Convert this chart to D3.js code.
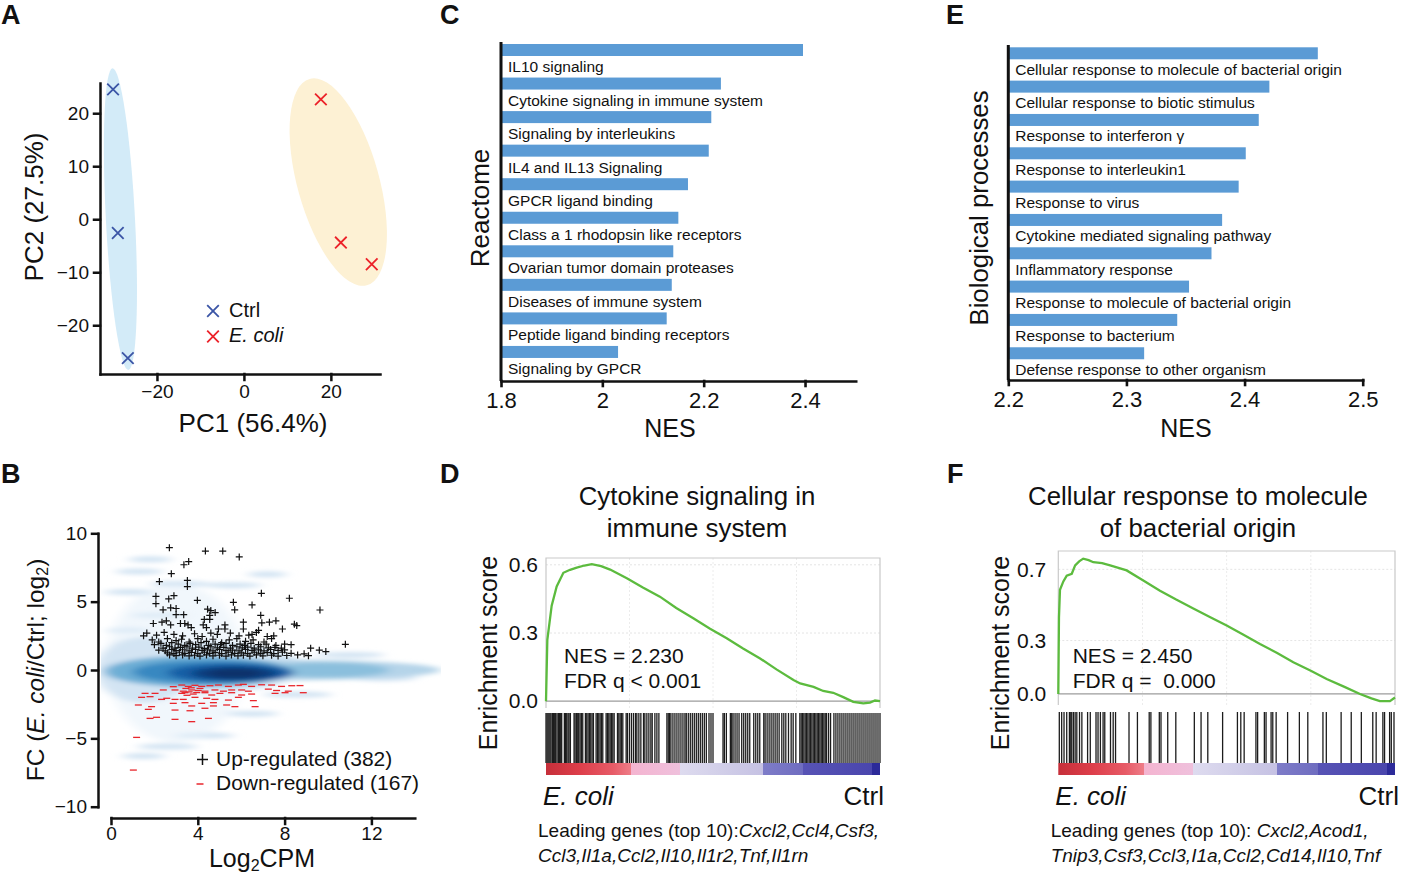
<!DOCTYPE html>
<html>
<head>
<meta charset="utf-8">
<title>E. coli transcriptome figure</title>
<script src="https://cdn.jsdelivr.net/npm/d3@7/dist/d3.min.js"></script>
<style>
  body { margin: 0; background: #fff; }
  text { font-family: "Liberation Sans", Arial, sans-serif; fill: #111; }
</style>
</head>
<body>
<script>
// ---------- A: PCA ----------
var pcaCtrl = [[-30.1, 24.5], [-29.0, -2.6], [-26.7, -26.2]];
var pcaEcoli = [[17.7, 22.6], [22.3, -4.4], [29.4, -8.5]];
// ellipse: centre PC1, centre PC2, half width (PC1), half height (PC2), tilt (deg)
var pcaEllipses = [[-28.4, 0.0, 3.35, 28.5, -3], [21.7, 7.0, 9.4, 20.2, -15.5]];
var pcaXTicks = [-20, 0, 20];
var pcaYTicks = [-20, -10, 0, 10, 20];
var pcaGroups = ["Ctrl", "E. coli"];

// ---------- B: MA plot ----------
var maXTicks = [0, 4, 8, 12];
var maYTicks = [-10, -5, 0, 5, 10];
// smoothed density of all genes: log2CPM, FC, spread log2CPM, spread FC, level 0..1
var maDensity = [
  [3.0, 0.5, 3.2, 5.8, 0.08], [1.5, 0.0, 2.2, 2.4, 0.18], [4.5, 0.2, 4.3, 1.9, 0.16],
  [8.0, 0.0, 7.2, 0.75, 0.3], [10.0, 0.0, 2.8, 0.55, 0.42], [4.0, -0.1, 4.3, 1.15, 0.5],
  [4.6, -0.15, 3.6, 0.85, 0.66], [5.5, -0.2, 2.9, 0.7, 0.82], [5.7, -0.25, 2.0, 0.5, 0.95],
  [5.7, -0.25, 1.2, 0.35, 1.0]
];
// faint streaks of the smoothed scatter: log2CPM, FC, half length
var maStreaks = [
  [1.8, 8.1, 1.0], [1.3, 7.2, 1.1], [0.9, 5.7, 1.2], [3.2, 6.3, 1.4], [5.6, 6.2, 1.3],
  [7.2, 7.0, 0.9], [2.6, -5.6, 1.4], [1.5, -6.3, 1.0], [4.3, -4.8, 1.4], [8.6, -1.8, 1.6],
  [12.6, -0.6, 1.5], [11.0, 1.1, 1.6], [2.2, 4.0, 1.3], [0.8, 2.9, 1.0], [6.5, -3.2, 1.2]
];
var maUp = [
  [2.69, 8.95], [4.35, 8.7], [5.15, 8.7], [5.91, 8.27], [3.36, 7.7], [3.58, 7.93], [2.78, 7.05],
  [2.23, 6.47], [3.52, 6.55], [3.52, 6.1], [6.93, 5.61], [8.22, 5.25], [9.63, 4.39], [10.8, 1.88],
  [2.07, 5.39], [2.07, 4.85], [2.66, 5.2], [2.9, 5.44], [3.98, 5.1], [5.64, 4.95], [6.5, 4.76],
  [2.4, 4.4], [2.75, 4.55], [3.0, 4.5], [3.0, 4.05], [3.35, 4.05], [4.45, 4.45], [4.6, 4.35],
  [4.55, 4.0], [4.55, 3.7], [4.8, 4.2], [5.7, 4.4], [6.9, 4.0], [7.3, 3.5], [6.95, 3.45],
  [8.45, 3.35], [7.6, 3.6], [7.9, 3.0], [1.95, 3.4], [2.35, 3.5], [2.55, 3.6], [2.75, 3.3],
  [3.2, 3.4], [3.4, 3.4], [3.55, 3.3], [3.7, 3.1], [4.3, 3.7], [4.25, 3.3], [4.4, 3.1],
  [4.6, 2.7], [4.95, 3.0], [5.25, 3.3], [5.25, 3.0], [6.1, 3.5], [6.1, 3.0], [6.5, 2.6],
  [6.8, 2.9], [7.5, 2.5], [8.0, 1.9], [8.56, 3.25],
  [1.5, 2.5], [1.65, 2.7], [2.1, 2.55], [2.45, 2.75], [2.9, 2.6], [3.3, 2.5], [3.85, 2.65],
  [4.2, 2.45], [4.9, 2.6], [5.5, 2.7], [5.9, 2.5], [6.35, 2.55], [6.7, 2.75], [7.2, 2.45],
  [1.9, 2.2], [2.2, 2.05], [2.6, 2.3], [3.0, 2.15], [3.25, 2.25], [3.6, 2.05], [4.0, 2.3],
  [4.4, 2.1], [4.7, 2.25], [5.1, 2.0], [5.45, 2.2], [5.8, 2.3], [6.2, 2.1], [6.55, 2.2],
  [7.05, 2.05], [7.4, 2.3],
  [2.0, 1.85], [2.3, 1.95], [2.55, 1.8], [2.8, 2.0], [3.1, 1.9], [3.4, 1.8], [3.65, 1.95],
  [3.9, 1.85], [4.15, 2.0], [4.5, 1.8], [4.8, 1.9], [5.05, 1.85], [5.3, 1.95], [5.6, 1.8],
  [5.95, 1.9], [6.15, 1.8], [6.45, 1.95], [6.8, 1.85], [7.15, 1.9], [7.6, 1.8], [8.3, 1.85],
  [2.4, 1.6], [2.7, 1.7], [2.95, 1.6], [3.2, 1.65], [3.5, 1.7], [3.75, 1.6], [4.05, 1.68],
  [4.3, 1.58], [4.6, 1.7], [4.9, 1.62], [5.2, 1.66], [5.5, 1.6], [5.8, 1.7], [6.05, 1.62],
  [6.3, 1.68], [6.6, 1.6], [6.9, 1.7], [7.25, 1.62], [7.55, 1.66], [7.85, 1.6], [9.2, 1.6],
  [2.2, 1.45], [2.5, 1.4], [2.8, 1.5], [3.0, 1.42], [3.3, 1.48], [3.6, 1.4], [3.9, 1.5],
  [4.2, 1.43], [4.45, 1.47], [4.7, 1.4], [5.0, 1.5], [5.3, 1.42], [5.6, 1.46], [5.9, 1.4],
  [6.2, 1.5], [6.5, 1.43], [6.8, 1.47], [7.05, 1.4], [7.35, 1.5], [7.7, 1.43], [8.0, 1.47],
  [9.6, 1.45],
  [2.6, 1.25], [2.9, 1.2], [3.15, 1.3], [3.4, 1.22], [3.7, 1.28], [4.0, 1.2], [4.3, 1.3],
  [4.55, 1.22], [4.8, 1.27], [5.1, 1.2], [5.4, 1.3], [5.7, 1.22], [6.0, 1.26], [6.3, 1.2],
  [6.6, 1.3], [6.9, 1.22], [7.2, 1.27], [7.5, 1.2], [7.9, 1.3], [8.3, 1.22], [8.9, 1.18],
  [9.9, 1.35],
  [2.7, 1.1], [3.0, 1.05], [3.3, 1.1], [3.6, 1.03], [3.85, 1.08], [4.1, 1.02], [4.4, 1.1],
  [4.7, 1.04], [5.0, 1.08], [5.3, 1.02], [5.55, 1.1], [5.85, 1.04], [6.1, 1.08], [6.4, 1.02],
  [6.7, 1.1], [7.0, 1.04], [7.4, 1.08], [7.7, 1.02], [8.1, 1.06], [8.6, 1.1], [9.1, 1.05]
];
var maDown = [
  [2.87, -1.22], [3.26, -1.1], [3.56, -1.2], [3.87, -1.12], [4.18, -1.2], [4.56, -1.15],
  [4.95, -1.1], [5.41, -1.2], [5.87, -1.1], [6.1, -1.05], [6.48, -1.2], [6.94, -1.08],
  [7.4, -1.1], [7.86, -1.2], [8.33, -1.15], [8.71, -1.14],
  [2.41, -1.46], [2.95, -1.46], [3.33, -1.55], [3.72, -1.46], [4.02, -1.5], [4.33, -1.55],
  [4.79, -1.46], [5.18, -1.55], [5.56, -1.46], [6.02, -1.46], [6.33, -1.55], [7.25, -1.4],
  [7.63, -1.5], [8.17, -1.55],
  [1.57, -1.71], [2.03, -1.71], [3.26, -1.71], [3.41, -1.66], [3.79, -1.76], [4.33, -1.66],
  [4.64, -1.83], [5.02, -1.71], [5.56, -1.66], [6.02, -1.83], [6.48, -1.76], [7.56, -1.71],
  [8.02, -1.66], [8.86, -1.66],
  [1.41, -2.0], [1.8, -1.95], [2.33, -2.15], [2.57, -2.07], [2.95, -2.15], [3.33, -2.15],
  [3.87, -2.0], [4.41, -2.07], [4.79, -2.15], [5.41, -2.2], [5.87, -2.0], [6.56, -2.24],
  [1.26, -2.56], [1.87, -2.68], [2.87, -2.44], [3.41, -2.39], [3.72, -2.63], [4.18, -2.44],
  [4.72, -2.39], [5.33, -2.56], [5.71, -2.68], [6.64, -2.68],
  [1.72, -2.88], [2.95, -2.93], [3.64, -2.98], [4.33, -2.8], [4.72, -2.63],
  [1.8, -3.54], [2.1, -3.46], [2.95, -3.61], [3.72, -3.78], [4.49, -3.54],
  [3.45, -1.35], [3.6, -1.6], [3.7, -1.3], [3.95, -1.65], [3.5, -1.85], [4.1, -1.35],
  [1.18, -4.93], [1.03, -7.32]
];
var maLegend = ["Up-regulated (382)", "Down-regulated (167)"];

// ---------- C: Reactome ----------
var reactomeTerms = [
  "IL10 signaling", "Cytokine signaling in immune system", "Signaling by interleukins",
  "IL4 and IL13 Signaling", "GPCR ligand binding", "Class a 1 rhodopsin like receptors",
  "Ovarian tumor domain proteases", "Diseases of immune system",
  "Peptide ligand binding receptors", "Signaling by GPCR"
];
var reactomeNES = [2.396, 2.234, 2.215, 2.21, 2.169, 2.15, 2.14, 2.137, 2.127, 2.031];
var reactomeTicks = [1.8, 2, 2.2, 2.4];

// ---------- E: GO biological processes ----------
var goTerms = [
  "Cellular response to molecule of bacterial origin", "Cellular response to biotic stimulus",
  "Response to interferon \u03b3", "Response to interleukin1", "Response to virus",
  "Cytokine mediated signaling pathway", "Inflammatory response",
  "Response to molecule of bacterial origin", "Response to bacterium",
  "Defense response to other organism"
];
var goNES = [2.462, 2.421, 2.412, 2.401, 2.395, 2.381, 2.372, 2.353, 2.343, 2.315];
var goTicks = [2.2, 2.3, 2.4, 2.5];

// ---------- D / F: GSEA running enrichment score (rank fraction, ES) ----------
var cytokineES = [
  [0, 0], [0.004, 0.27], [0.017, 0.42], [0.032, 0.505], [0.052, 0.565], [0.072, 0.578],
  [0.092, 0.588], [0.115, 0.597], [0.137, 0.603], [0.165, 0.594], [0.192, 0.579],
  [0.242, 0.541], [0.29, 0.5], [0.341, 0.46], [0.39, 0.41], [0.441, 0.365], [0.49, 0.32],
  [0.541, 0.277], [0.59, 0.232], [0.641, 0.188], [0.69, 0.14], [0.741, 0.093],
  [0.761, 0.078], [0.801, 0.063], [0.83, 0.045], [0.86, 0.037], [0.89, 0.018],
  [0.92, -0.003], [0.95, -0.01], [0.97, -0.006], [0.985, 0.003], [1, 0]
];
var bacterialES = [
  [0, 0], [0.002, 0.43], [0.005, 0.585], [0.015, 0.632], [0.025, 0.665], [0.04, 0.675],
  [0.05, 0.722], [0.062, 0.745], [0.074, 0.76], [0.09, 0.752], [0.104, 0.74], [0.13, 0.735],
  [0.154, 0.722], [0.203, 0.694], [0.25, 0.64], [0.302, 0.58], [0.35, 0.53], [0.401, 0.48],
  [0.45, 0.432], [0.5, 0.384], [0.55, 0.333], [0.599, 0.281], [0.65, 0.23], [0.698, 0.178],
  [0.75, 0.13], [0.797, 0.084], [0.85, 0.04], [0.896, 0.0], [0.93, -0.025], [0.955, -0.04],
  [0.985, -0.04], [1, -0.02]
];
// positions of gene-set members in the ranked list (0..1000)
var cytokineHits = [
  0, 3, 6, 9, 12, 15, 19, 22, 26, 29, 33, 37, 40, 44, 47, 55, 58, 62, 66, 69, 73,
  84, 87, 91, 95, 98, 102, 106, 110, 118, 122, 126, 130, 134, 138, 142, 150, 154, 158,
  162, 166, 170, 180, 184, 188, 192, 196, 200, 204, 214, 218, 222, 226, 230, 240, 244,
  250, 256, 262, 268, 272, 278, 284, 292, 296, 302, 308, 314, 318, 326, 332, 338,
  362, 366, 370, 374, 380, 386, 392, 398, 404, 410, 416, 420, 426, 432, 438, 444, 450,
  456, 462, 468, 474, 480, 488, 494, 500, 530, 534, 540, 552, 556, 560, 566, 572, 578,
  586, 592, 598, 604, 610, 622, 628, 634, 640, 652, 656, 662, 668, 674, 680, 686, 692,
  698, 706, 712, 718, 726, 734, 740, 748, 760, 764, 768, 772, 776, 780, 784, 788, 792,
  796, 800, 804, 808, 812, 816, 820, 824, 828, 832, 836, 840, 846, 852, 862, 868, 874,
  880, 886, 892, 898, 904, 910, 916, 922, 928, 934, 940, 946, 952, 958, 964, 970, 976,
  982, 988, 994, 1000
];
var bacterialHits = [
  3, 10, 17, 25, 33, 37, 40, 45, 50, 55, 63, 70, 87, 95, 112, 118, 125, 133, 138, 155,
  163, 170, 210, 235, 270, 275, 300, 305, 325, 349, 404, 424, 444, 488, 532, 542, 552,
  587, 592, 612, 617, 632, 637, 647, 681, 716, 741, 786, 796, 840, 870, 900, 934, 944,
  964, 969, 984, 989, 997
];
// ranked-list metric colour bar (offset, colour)
var rankColours = [
  [0, "#c62f3a"], [0.1, "#dd3e4a"], [0.2, "#e75b67"], [0.255, "#ee7d88"],
  [0.255, "#f4b4d0"], [0.4, "#efc0dc"], [0.4, "#dedbef"], [0.52, "#d2cfe9"],
  [0.65, "#c5c1e3"], [0.65, "#7e7cc8"], [0.77, "#6f6dc0"], [0.77, "#5753b5"],
  [0.975, "#4a46ad"], [0.975, "#2c2a99"], [1, "#2c2a99"]
];
var cytokineTitle = ["Cytokine signaling in", "immune system"];
var bacterialTitle = ["Cellular response to molecule", "of bacterial origin"];
var cytokineStats = ["NES = 2.230", "FDR q < 0.001"];
var bacterialStats = ["NES = 2.450", "FDR q =  0.000"];
var cytokineGenes = ["Cxcl2,Ccl4,Csf3,", "Ccl3,Il1a,Ccl2,Il10,Il1r2,Tnf,Il1rn"];
var bacterialGenes = [" Cxcl2,Acod1,", "Tnip3,Csf3,Ccl3,I1a,Ccl2,Cd14,Il10,Tnf"];

// =====================================================================
var svg = d3.select("body").append("svg").attr("width", 1414).attr("height", 876);

function styleAxis(g, fs, sw) {
  g.attr("font-size", fs);
  g.selectAll(".domain, .tick line").attr("stroke", "#111").attr("stroke-width", sw)
    .attr("stroke-linecap", "square");
  g.selectAll(".tick text").attr("fill", "#111");
}

// panel letters
[["A", 1, 24], ["B", 1, 483], ["C", 440, 24], ["D", 440, 483], ["E", 946, 24], ["F", 947, 483]]
  .forEach(function (p) {
    svg.append("text").attr("x", p[1]).attr("y", p[2]).attr("font-size", 27)
      .attr("font-weight", "bold").text(p[0]);
  });

// ---------------- A ----------------
var xA = d3.scaleLinear().domain([-33.1, 31.3]).range([100, 380]);
var yA = d3.scaleLinear().domain([-29.2, 25.7]).range([374, 83]);
var gA = svg.append("g");
var ellipseFill = ["#d3ebf8", "#fdf1d4"];
pcaEllipses.forEach(function (e, i) {
  var cx = xA(e[0]), cy = yA(e[1]);
  gA.append("ellipse").attr("cx", cx).attr("cy", cy)
    .attr("rx", xA(e[0] + e[2]) - cx).attr("ry", yA(e[1] - e[3]) - cy)
    .attr("transform", "rotate(" + e[4] + "," + cx + "," + cy + ")")
    .attr("fill", ellipseFill[i]);
});
var axA1 = gA.append("g").attr("transform", "translate(0,374)")
  .call(d3.axisBottom(xA).tickValues(pcaXTicks).tickSize(6).tickSizeOuter(0).tickPadding(5));
styleAxis(axA1, 19, 2.5);
var axA2 = gA.append("g").attr("transform", "translate(100,0)")
  .call(d3.axisLeft(yA).tickValues(pcaYTicks).tickSize(6).tickSizeOuter(0).tickPadding(5));
styleAxis(axA2, 19, 2.5);

function crossPath(x, y, s) {
  return "M" + (x - s) + "," + (y - s) + "L" + (x + s) + "," + (y + s) +
    "M" + (x - s) + "," + (y + s) + "L" + (x + s) + "," + (y - s);
}
var groupColour = ["#3b55a6", "#ec2229"];
[pcaCtrl, pcaEcoli].forEach(function (pts, i) {
  gA.selectAll(null).data(pts).join("path")
    .attr("d", function (d) { return crossPath(xA(d[0]), yA(d[1]), 5.8); })
    .attr("stroke", groupColour[i]).attr("stroke-width", 1.8).attr("fill", "none");
});
pcaGroups.forEach(function (name, i) {
  var ly = 311 + i * 25.5;
  gA.append("path").attr("d", crossPath(213, ly, 5.8))
    .attr("stroke", groupColour[i]).attr("stroke-width", 1.8).attr("fill", "none");
  gA.append("text").attr("x", 229).attr("y", ly + 5.5).attr("font-size", 20)
    .attr("font-style", i === 1 ? "italic" : "normal").text(name);
});
gA.append("text").attr("x", 253).attr("y", 432).attr("font-size", 26)
  .attr("text-anchor", "middle").text("PC1 (56.4%)");
gA.append("text").attr("transform", "translate(43,207) rotate(-90)").attr("font-size", 26)
  .attr("text-anchor", "middle").text("PC2 (27.5%)");

// ---------------- B ----------------
var xB = d3.scaleLinear().domain([0, 14]).range([111, 414.8]);
var yB = d3.scaleLinear().domain([-10, 10]).range([806.7, 533.3]);
var gB = svg.append("g");
var defs = svg.append("defs");
defs.append("clipPath").attr("id", "maClip").append("rect")
  .attr("x", 101).attr("y", 533).attr("width", 340).attr("height", 274);
var blur = defs.append("filter").attr("id", "maBlur")
  .attr("x", "-20%").attr("y", "-20%").attr("width", "140%").attr("height", "140%");
blur.append("feGaussianBlur").attr("stdDeviation", "6 2.2");
var dens = gB.append("g").attr("clip-path", "url(#maClip)").append("g").attr("filter", "url(#maBlur)");
dens.selectAll(null).data(maStreaks).join("ellipse")
  .attr("cx", function (d) { return xB(d[0]); }).attr("cy", function (d) { return yB(d[1]); })
  .attr("rx", function (d) { return xB(d[2]) - xB(0); }).attr("ry", 3)
  .attr("fill", d3.interpolateBlues(0.18));
dens.selectAll(null).data(maDensity.slice().sort(function (a, b) { return a[4] - b[4]; }))
  .join("ellipse")
  .attr("cx", function (d) { return xB(d[0]); }).attr("cy", function (d) { return yB(d[1]); })
  .attr("rx", function (d) { return xB(d[2]) - xB(0); })
  .attr("ry", function (d) { return yB(0) - yB(d[3]); })
  .attr("fill", function (d) { return d3.interpolateBlues(d[4]); })
  .attr("opacity", function (d) { return d[4] < 0.1 ? 0.6 : 1; });

gB.selectAll(null).data(maDown).join("path")
  .attr("d", function (d) { var x = xB(d[0]), y = yB(d[1]); return "M" + (x - 3.5) + "," + y + "H" + (x + 3.5); })
  .attr("stroke", "#e8262c").attr("stroke-width", 1.3);
gB.selectAll(null).data(maUp).join("path")
  .attr("d", function (d) {
    var x = xB(d[0]), y = yB(d[1]);
    return "M" + (x - 3.5) + "," + y + "H" + (x + 3.5) + "M" + x + "," + (y - 3.5) + "V" + (y + 3.5);
  })
  .attr("stroke", "#111").attr("stroke-width", 1.2);

var axB1 = gB.append("g").attr("transform", "translate(0,818)")
  .call(d3.axisBottom(xB).tickValues(maXTicks).tickSize(6).tickSizeOuter(0).tickPadding(3));
styleAxis(axB1, 19, 2.5);
var axB2 = gB.append("g").attr("transform", "translate(98,0)")
  .call(d3.axisLeft(yB).tickValues(maYTicks).tickSize(6).tickSizeOuter(0).tickPadding(5));
styleAxis(axB2, 19, 2.5);

maLegend.forEach(function (name, i) {
  var ly = 759.5 + i * 24;
  if (i === 0) {
    gB.append("path").attr("d", "M197,759.5H208M202.5,754V765").attr("stroke", "#111").attr("stroke-width", 1.5);
  } else {
    gB.append("path").attr("d", "M196.5," + (ly + 0.5) + "H203.5").attr("stroke", "#e8262c").attr("stroke-width", 1.5);
  }
  gB.append("text").attr("x", 216).attr("y", ly + 6.5).attr("font-size", 21).text(name);
});
var xtB = gB.append("text").attr("x", 262).attr("y", 867).attr("font-size", 25).attr("text-anchor", "middle");
xtB.append("tspan").text("Log");
xtB.append("tspan").attr("font-size", 16).attr("dy", 4).text("2");
xtB.append("tspan").attr("dy", -4).text("CPM");
var ytB = gB.append("text").attr("transform", "translate(44,670) rotate(-90)").attr("font-size", 24.5)
  .attr("text-anchor", "middle");
ytB.append("tspan").text("FC (");
ytB.append("tspan").attr("font-style", "italic").text("E. coli");
ytB.append("tspan").text("/Ctrl; log");
ytB.append("tspan").attr("font-size", 16).attr("dy", 4).text("2");
ytB.append("tspan").attr("dy", -4).text(")");

// ---------------- C & E: NES bars ----------------
function nesBars(terms, values, ticks, o) {
  var g = svg.append("g");
  var x = d3.scaleLinear().domain(o.domain).range([o.left, o.right]);
  var y = d3.scaleBand().domain(terms).range([o.bandTop, o.bandBottom]);
  g.selectAll(null).data(terms).join("rect")
    .attr("x", o.left).attr("y", function (d) { return y(d); })
    .attr("width", function (d, i) { return x(values[i]) - o.left; })
    .attr("height", 12).attr("fill", "#5b9bd5");
  g.selectAll(null).data(terms).join("text")
    .attr("x", o.left + 7).attr("y", function (d) { return y(d) + o.labelDy; })
    .attr("font-size", 15.5).text(function (d) { return d; });
  var ax = g.append("g").attr("transform", "translate(0," + o.axisY + ")")
    .call(d3.axisBottom(x).tickValues(ticks).tickFormat(d3.format("")).tickSize(5).tickSizeOuter(0).tickPadding(6));
  styleAxis(ax, 22, 2.6);
  g.append("line").attr("x1", o.left).attr("x2", o.left).attr("y1", o.axisTop).attr("y2", o.axisY)
    .attr("stroke", "#111").attr("stroke-width", 3);
  g.append("text").attr("x", o.titleX).attr("y", 437).attr("font-size", 25)
    .attr("text-anchor", "middle").text("NES");
  g.append("text").attr("transform", "translate(" + o.yTitleX + ",208) rotate(-90)")
    .attr("font-size", o.yTitleSize).attr("text-anchor", "middle").text(o.yTitle);
}
nesBars(reactomeTerms, reactomeNES, reactomeTicks, {
  domain: [1.8, 2.5], left: 501, right: 855.7, bandTop: 44, bandBottom: 379.5, labelDy: 28,
  axisY: 381, axisTop: 42, titleX: 670, yTitleX: 489, yTitle: "Reactome", yTitleSize: 26
});
nesBars(goTerms, goNES, goTicks, {
  domain: [2.2, 2.5], left: 1008.3, right: 1362.7, bandTop: 47.3, bandBottom: 380.6, labelDy: 27.5,
  axisY: 380, axisTop: 45, titleX: 1186, yTitleX: 988, yTitle: "Biological processes", yTitleSize: 25.8
});

// ---------------- D & F: GSEA ----------------
function gseaPanel(curve, hits, title, stats, genes, o) {
  var g = svg.append("g");
  var x = d3.scaleLinear().domain([0, 1]).range([o.left, o.right]);
  var xr = d3.scaleLinear().domain([0, 1000]).range([o.left, o.right]);
  var y = d3.scaleLinear().domain(o.esDomain).range([o.plotBottom, o.top]);

  g.selectAll(null).data(o.yTicks.filter(function (v) { return v !== 0; })).join("line")
    .attr("x1", o.left).attr("x2", o.right)
    .attr("y1", function (d) { return y(d); }).attr("y2", function (d) { return y(d); })
    .attr("stroke", "#e4e4e4").attr("stroke-dasharray", "2,2");
  g.selectAll(null).data([0.25, 0.5, 0.75]).join("line")
    .attr("x1", function (d) { return x(d); }).attr("x2", function (d) { return x(d); })
    .attr("y1", o.top).attr("y2", o.plotBottom)
    .attr("stroke", "#ececec").attr("stroke-dasharray", "2,2");
  g.append("path").attr("d", "M" + o.left + "," + o.plotBottom + "V" + o.top + "H" + o.right + "V" + o.plotBottom)
    .attr("fill", "none").attr("stroke", "#c9c9c9").attr("stroke-width", 1.2);
  g.append("line").attr("x1", o.left).attr("x2", o.right).attr("y1", y(0)).attr("y2", y(0))
    .attr("stroke", "#9c9c9c").attr("stroke-width", 1.3);
  g.append("path").datum(curve)
    .attr("d", d3.line().x(function (d) { return x(d[0]); }).y(function (d) { return y(d[1]); }))
    .attr("fill", "none").attr("stroke", "#5cbb3e").attr("stroke-width", 2.3);

  var ax = g.append("g").attr("transform", "translate(" + o.left + ",0)")
    .call(d3.axisLeft(y).tickValues(o.yTicks).tickFormat(d3.format(".1f")).tickSize(0).tickPadding(o.tickPad));
  ax.select(".domain").remove();
  ax.attr("font-size", 21);
  ax.selectAll(".tick text").attr("fill", "#111");

  g.selectAll(null).data(hits).join("line")
    .attr("x1", function (d) { return xr(d); }).attr("x2", function (d) { return xr(d); })
    .attr("y1", o.barTop).attr("y2", o.barBottom)
    .attr("stroke", "#1c1c1c").attr("stroke-width", 1.3);

  var grad = defs.append("linearGradient").attr("id", o.id);
  grad.selectAll("stop").data(rankColours).join("stop")
    .attr("offset", function (d) { return d[0]; }).attr("stop-color", function (d) { return d[1]; });
  g.append("rect").attr("x", o.left).attr("y", o.barBottom).attr("width", o.right - o.left)
    .attr("height", 12).attr("fill", "url(#" + o.id + ")");

  title.forEach(function (t, i) {
    g.append("text").attr("x", o.titleX).attr("y", 505 + i * 32).attr("font-size", 25.8)
      .attr("text-anchor", "middle").text(t);
  });
  stats.forEach(function (t, i) {
    g.append("text").attr("x", o.statX).attr("y", 663 + i * 25).attr("font-size", 21)
      .style("white-space", "pre").text(t);
  });
  g.append("text").attr("transform", "translate(" + o.yTitleX + ",653) rotate(-90)")
    .attr("font-size", 25).attr("text-anchor", "middle").text("Enrichment score");
  g.append("text").attr("x", o.left - 3).attr("y", 805).attr("font-size", 26)
    .attr("font-style", "italic").text("E. coli");
  g.append("text").attr("x", o.right + 4).attr("y", 805).attr("font-size", 26)
    .attr("text-anchor", "end").text("Ctrl");
  var l1 = g.append("text").attr("x", o.genesX).attr("y", 837).attr("font-size", 19)
    .style("white-space", "pre");
  l1.append("tspan").text("Leading genes (top 10):");
  l1.append("tspan").attr("font-style", "italic").text(genes[0]);
  g.append("text").attr("x", o.genesX).attr("y", 862).attr("font-size", 19)
    .attr("font-style", "italic").text(genes[1]);
}
gseaPanel(cytokineES, cytokineHits, cytokineTitle, cytokineStats, cytokineGenes, {
  id: "rankD", left: 546, right: 880, top: 558, plotBottom: 708, esDomain: [-0.03, 0.63],
  yTicks: [0, 0.3, 0.6], tickPad: 8, barTop: 713, barBottom: 763,
  titleX: 697, statX: 564, yTitleX: 497, genesX: 538
});
gseaPanel(bacterialES, bacterialHits, bacterialTitle, bacterialStats, bacterialGenes, {
  id: "rankF", left: 1058.3, right: 1395, top: 551, plotBottom: 705, esDomain: [-0.062, 0.803],
  yTicks: [0, 0.3, 0.7], tickPad: 12, barTop: 712, barBottom: 763,
  titleX: 1198, statX: 1072.7, yTitleX: 1009, genesX: 1050.7
});
</script>
</body>
</html>
